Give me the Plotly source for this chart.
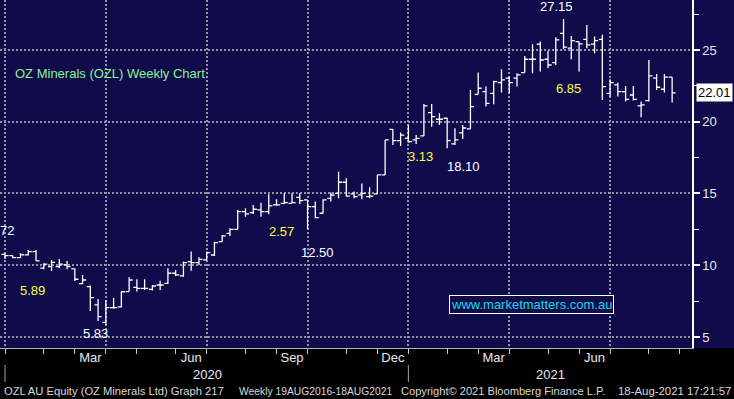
import pandas as pd
import plotly.graph_objects as go

# ---------------- data (weekly bars, Friday dated) ----------------
dates = pd.date_range("2020-01-03", periods=87, freq="7D")

opens = [10.76, 10.67, 10.53, 10.72, 10.95, 9.79, 9.90, 9.90, 10.02, 9.74,
         8.72, 8.51, 7.23, 6.02, 7.05, 7.10, 8.16, 8.46, 8.39, 8.32,
         8.62, 8.74, 9.44, 9.25, 10.25, 10.18, 10.37, 10.71, 11.64, 12.22,
         12.50, 13.73, 13.66, 13.85, 13.73, 14.20, 14.31, 14.31, 14.73, 14.55,
         14.08, 13.62, 14.66, 15.01, 15.78, 14.97, 14.90, 14.78, 14.97, 16.29,
         19.47, 18.68, 18.84, 18.73, 19.01, 20.63, 20.17, 20.24, 18.45, 19.22,
         19.50, 21.91, 22.10, 21.98, 22.72, 23.03, 23.03, 23.42, 24.35, 25.40,
         24.35, 24.12, 26.16, 25.12, 25.58, 25.74, 25.40, 25.74, 21.98, 22.56,
         22.10, 21.86, 21.10, 21.47, 23.03, 22.26, 23.10]
highs = [10.83, 10.67, 10.83, 11.06, 11.06, 10.14, 10.37, 10.44, 10.30, 9.79,
         9.32, 8.58, 7.65, 7.58, 7.72, 8.16, 9.16, 9.02, 9.02, 8.62,
         8.92, 9.78, 9.67, 10.25, 10.95, 10.55, 10.95, 11.64, 12.11, 12.57,
         13.85, 13.96, 14.20, 14.36, 14.94, 14.59, 15.01, 15.01, 15.01, 14.55,
         14.43, 14.59, 15.06, 16.52, 16.06, 15.13, 15.70, 15.43, 16.29, 18.73,
         19.47, 19.24, 19.77, 19.07, 21.24, 21.24, 20.58, 20.28, 19.54, 19.77,
         22.21, 23.42, 22.45, 22.86, 23.65, 23.14, 23.37, 24.58, 25.40, 25.58,
         24.95, 25.88, 27.15, 25.98, 25.58, 26.74, 25.93, 26.05, 22.96, 22.72,
         22.49, 22.49, 21.40, 24.30, 23.33, 23.33, 23.10]
lows = [10.44, 10.48, 10.53, 10.67, 10.30, 9.72, 9.60, 9.79, 9.72, 8.90,
        8.67, 6.81, 6.12, 5.83, 6.97, 7.05, 8.16, 8.16, 8.27, 8.23,
        8.27, 8.69, 9.25, 9.20, 9.62, 10.02, 10.37, 10.64, 11.64, 12.04,
        12.50, 13.38, 13.57, 13.38, 13.55, 14.15, 14.24, 14.31, 14.27, 12.50,
        13.27, 13.62, 14.43, 14.66, 14.78, 14.66, 14.59, 14.66, 14.97, 16.29,
        18.38, 18.31, 18.54, 18.45, 19.01, 19.65, 19.77, 18.15, 18.38, 18.80,
        19.50, 21.91, 21.05, 21.21, 22.03, 21.98, 22.45, 23.42, 23.37, 23.49,
        23.72, 23.95, 25.05, 24.35, 23.49, 25.12, 24.77, 21.52, 21.75, 21.75,
        21.40, 21.47, 20.31, 21.40, 22.21, 22.03, 21.33]
closes = [10.67, 10.53, 10.72, 10.95, 10.30, 10.07, 10.20, 10.07, 9.90, 9.02,
          8.97, 7.74, 6.42, 7.05, 7.05, 8.15, 8.97, 8.39, 8.39, 8.55,
          8.62, 9.44, 9.32, 10.18, 10.18, 10.41, 10.88, 11.57, 12.04, 12.50,
          13.73, 13.57, 13.90, 13.73, 14.13, 14.20, 14.36, 14.36, 14.50, 14.08,
          13.31, 14.55, 14.89, 15.78, 14.82, 14.78, 15.01, 14.82, 16.29, 18.73,
          18.68, 19.07, 18.61, 18.84, 21.10, 20.35, 20.17, 18.68, 18.73, 19.56,
          21.05, 22.33, 21.28, 22.79, 22.91, 22.72, 23.26, 24.35, 24.35, 24.30,
          23.95, 25.70, 25.19, 25.65, 25.42, 25.35, 25.65, 22.45, 22.72, 22.10,
          21.56, 21.56, 21.17, 23.19, 22.40, 23.10, 22.01]

# first weekly bar of each month (tick marks) and of each quarter (grid lines)
month_starts = ["2020-01-03", "2020-02-07", "2020-03-06", "2020-04-03", "2020-05-01",
                "2020-06-05", "2020-07-03", "2020-08-07", "2020-09-04", "2020-10-02",
                "2020-11-06", "2020-12-04", "2021-01-01", "2021-02-05", "2021-03-05",
                "2021-04-02", "2021-05-07", "2021-06-04", "2021-07-02", "2021-08-06",
                "2021-09-03"]
quarter_starts = ["2020-01-03", "2020-04-03", "2020-07-03", "2020-10-02",
                  "2021-01-01", "2021-04-02", "2021-07-02"]
month_label_dates = ["2020-03-20", "2020-06-19", "2020-09-18", "2020-12-18",
                     "2021-03-19", "2021-06-18"]
month_labels = ["Mar", "Jun", "Sep", "Dec", "Mar", "Jun"]
year_starts = ["2020-01-03", "2021-01-01"]
year_labels = ["2020", "2021"]
y_ticks = [5, 10, 15, 20, 25]

# value labels on the chart: (text, colour, x px, y px)
value_labels = [
    ("72", "#ffffff", 7, 230),
    ("5.89", "#ffff33", 32, 290),
    ("5.83", "#ffffff", 95, 333),
    ("2.57", "#ffff33", 281, 231),
    ("12.50", "#ffffff", 317, 252),
    ("3.13", "#ffff33", 420, 156),
    ("18.10", "#ffffff", 463, 167),
    ("27.15", "#ffffff", 556, 7),
    ("6.85", "#ffff33", 568, 88),
]

# ---------------- styling ----------------
NAVY = "#100c4b"
FONT = "Liberation Sans"
PW, PH = 692.0, 348.0          # plot area in px
X_RANGE = ["2019-12-29 11:45", "2021-09-13 22:00"]
Y_RANGE = [4.23, 28.48]


def px(x):
    return x / PW


def py(y):
    return 1 - y / PH


fig = go.Figure()
fig.add_trace(go.Ohlc(
    x=dates, open=opens, high=highs, low=lows, close=closes,
    increasing=dict(line=dict(color="white", width=1.3)),
    decreasing=dict(line=dict(color="white", width=1.3)),
    tickwidth=0.46, hoverinfo="skip", showlegend=False,
))
# empty helper trace so the month-label axis is drawn
fig.add_trace(go.Scatter(x=[], y=[], xaxis="x2", yaxis="y",
                         showlegend=False, hoverinfo="skip"))

anns = []
anns.append(dict(text="OZ Minerals (OZL) Weekly Chart", x=px(13), y=py(73),
                 xref="paper", yref="paper", xanchor="left", yanchor="middle",
                 showarrow=False, font=dict(family=FONT, size=13, color="#8ef08e")))
for t, c, xx, yy in value_labels:
    anns.append(dict(text=t, x=px(xx), y=py(yy), xref="paper", yref="paper",
                     xanchor="center", yanchor="middle", showarrow=False,
                     font=dict(family=FONT, size=13, color=c)))
anns.append(dict(text="www.marketmatters.com.au", x=px(531.5), y=py(304.5),
                 xref="paper", yref="paper", xanchor="center", yanchor="middle",
                 showarrow=False, bordercolor="white", borderwidth=1, borderpad=1,
                 bgcolor=NAVY, font=dict(family=FONT, size=13, color="#18d8ea")))
# last price box
anns.append(dict(text=f"{closes[-1]:.2f}", x=1, xshift=4, y=closes[-1],
                 xref="paper", yref="y", xanchor="left", yanchor="middle",
                 showarrow=False, bgcolor="white", borderpad=1,
                 font=dict(family=FONT, size=13, color="black")))
# year labels
for yl, xx in zip(year_labels, [207, 550]):
    anns.append(dict(text=yl, x=px(xx), y=py(374), xref="paper", yref="paper",
                     xanchor="center", yanchor="middle", showarrow=False,
                     font=dict(family=FONT, size=13, color="#e8e8f0")))
# footer: (text, left px, right px, font size)
footer = [("OZL AU Equity (OZ Minerals Ltd) Graph 217", 2, 225, 11.2),
          ("Weekly 19AUG2016-18AUG2021", 240, 390, 10.3),
          ("Copyright\u00a9 2021 Bloomberg Finance L.P.", 399, 606, 11.1),
          ("18-Aug-2021 17:21:57", 617, 732, 11.4)]
for t, x0, x1, fs in footer:
    anns.append(dict(text=t, x=px((x0 + x1) / 2), y=py(391), xref="paper", yref="paper",
                     xanchor="center", yanchor="middle", showarrow=False,
                     font=dict(family=FONT, size=fs, color="#d8d8d8")))

shapes = [dict(type="rect", xref="paper", yref="paper", x0=-0.01, x1=734 / PW + 0.01,
               y0=py(400), y1=0, fillcolor="black", line=dict(width=0), layer="below")]
for ys in year_starts:
    shapes.append(dict(type="line", xref="x", yref="paper", x0=ys, x1=ys,
                       y0=py(365), y1=py(382), line=dict(color="#a0a0a0", width=1)))

fig.update_layout(
    width=734, height=399,
    margin=dict(l=0, r=42, t=0, b=51, pad=0),
    paper_bgcolor=NAVY, plot_bgcolor=NAVY,
    showlegend=False,
    annotations=anns, shapes=shapes,
    xaxis=dict(
        type="date", range=X_RANGE, rangeslider=dict(visible=False),
        tickmode="array", tickvals=quarter_starts, showticklabels=False,
        ticks="outside", ticklen=5, tickcolor="#c8c8c8", tickwidth=1,
        showgrid=True, gridcolor="#9494a4", gridwidth=2, griddash="2px,2px",
        showline=True, linecolor="#b0b0b0", linewidth=1, zeroline=False,
        minor=dict(tickmode="array", tickvals=month_starts, ticks="outside",
                   ticklen=5, tickcolor="#c8c8c8", tickwidth=1, showgrid=False),
    ),
    xaxis2=dict(
        type="date", range=X_RANGE, overlaying="x", side="bottom", anchor="y",
        tickmode="array", tickvals=month_label_dates, ticktext=month_labels,
        ticks="", showgrid=False, showline=False, zeroline=False,
        tickfont=dict(family=FONT, size=13, color="#e8e8f0"),
    ),
    yaxis=dict(
        range=Y_RANGE, side="right", tickmode="array", tickvals=y_ticks,
        ticks="outside", ticklen=6, tickwidth=2, tickcolor="white",
        showline=True, linecolor="white", linewidth=1.5, zeroline=False,
        showgrid=True, gridcolor="#9494a4", gridwidth=2, griddash="2px,2px",
        tickfont=dict(family=FONT, size=13, color="#e8e8f0"),
        minor=dict(dtick=2.5, tick0=0, ticks="outside", ticklen=5,
                   tickcolor="white", tickwidth=1, showgrid=False),
    ),
)

fig.write_html(
    "out.html",
    config={"displayModeBar": False},
    post_script="document.body.style.margin='0';document.body.style.background='#000';",
)
